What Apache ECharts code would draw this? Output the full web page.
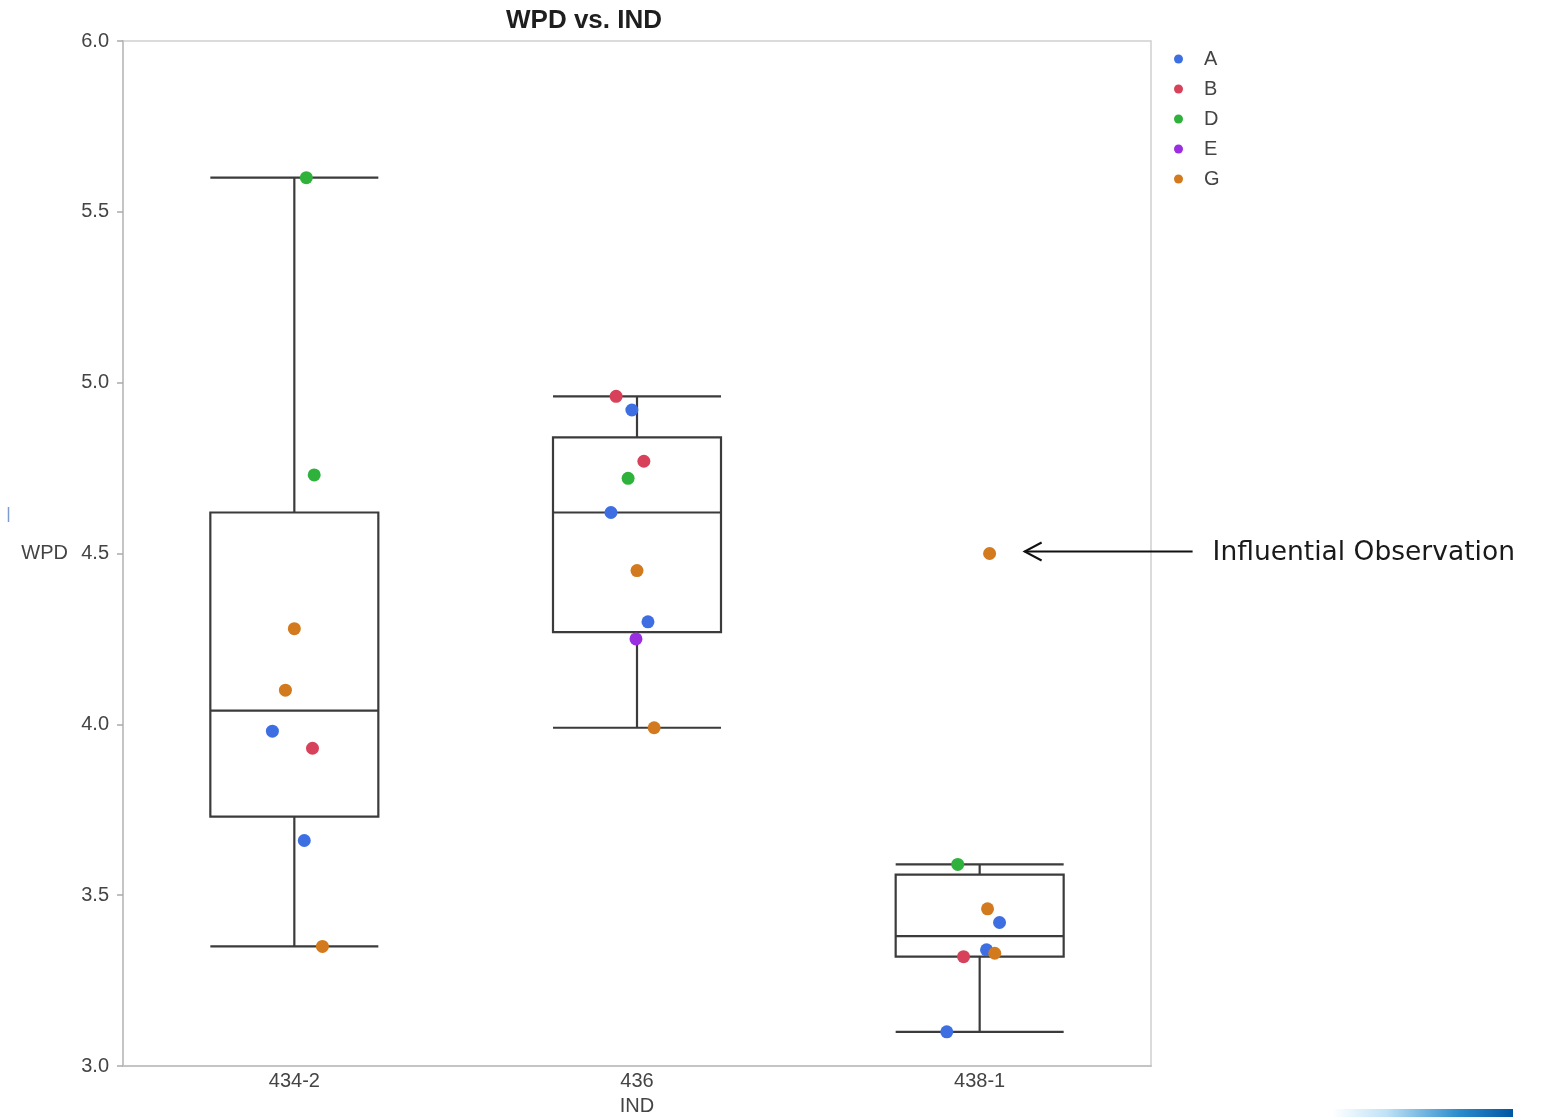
<!DOCTYPE html>
<html>
<head>
<meta charset="utf-8">
<script src="https://cdn.jsdelivr.net/npm/echarts@6/dist/echarts.min.js"></script>
<style>
html,body{margin:0;padding:0;background:#fff;}
#chart{width:1541px;height:1117px;}
</style>
</head>
<body>
<div id="chart"></div>
<script>
// ---- data ----
const categories = ['434-2', '436', '438-1'];
// [lower whisker, Q1, median, Q3, upper whisker]
const boxStats = [
  [3.35, 3.73, 4.04, 4.62, 5.60],
  [3.99, 4.27, 4.62, 4.84, 4.96],
  [3.10, 3.32, 3.38, 3.56, 3.59]
];
const groups = ['A', 'B', 'D', 'E', 'G'];
const groupColors = ['#3d6fe3', '#d8415a', '#2fb23c', '#9a2fe2', '#d27a1d'];
// points: [category index, WPD, horizontal jitter (category units)]
const pointsA = [[0, 3.98, -0.064], [0, 3.66, 0.029], [1, 4.92, -0.015], [1, 4.62, -0.076], [1, 4.30, 0.032], [2, 3.42, 0.058], [2, 3.34, 0.020], [2, 3.10, -0.096]];
const pointsB = [[0, 3.93, 0.053], [1, 4.96, -0.061], [1, 4.77, 0.020], [2, 3.32, -0.047]];
const pointsD = [[0, 5.60, 0.035], [0, 4.73, 0.058], [1, 4.72, -0.026], [2, 3.59, -0.064]];
const pointsE = [[1, 4.25, -0.003]];
const pointsG = [[0, 4.28, 0.0], [0, 4.10, -0.026], [0, 3.35, 0.082], [1, 4.45, 0.0], [1, 3.99, 0.050], [2, 3.46, 0.023], [2, 3.33, 0.044], [2, 4.50, 0.029]];
const groupPoints = [pointsA, pointsB, pointsD, pointsE, pointsG];
const yTicks = [3.0, 3.5, 4.0, 4.5, 5.0, 5.5, 6.0];
const influential = { group: 'G', category: 2, value: 4.50, jitter: 0.029 };
const annotationText = 'Influential Observation';

// ---- chart ----
const chart = echarts.init(document.getElementById('chart'));
const labelFont = '"Liberation Sans", Arial, sans-serif';

const scatterSeries = groups.map((g, i) => ({
  name: g,
  type: 'scatter',
  xAxisIndex: 1,
  yAxisIndex: 0,
  symbol: 'circle',
  symbolSize: 13,
  z: 5,
  itemStyle: { color: groupColors[i], opacity: 1 },
  data: groupPoints[i].map(p => [p[0] + p[2], p[1]])
}));

const option = {
  animation: false,
  backgroundColor: '#ffffff',
  title: {
    text: 'WPD vs. IND',
    left: 501, top: 3,
    textStyle: { fontFamily: labelFont, fontSize: 26, fontWeight: 'bold', color: '#1e1e1e' }
  },
  legend: {
    orient: 'vertical',
    left: 1169, top: 44,
    icon: 'circle',
    itemWidth: 9, itemHeight: 9,
    itemGap: 10,
    data: groups,
    textStyle: { fontFamily: labelFont, fontSize: 20, color: '#444', padding: [0, 0, 0, 16] }
  },
  grid: {
    left: 123, right: 390, top: 41, bottom: 51,
    outerBoundsMode: 'none',
    containLabel: false,
    show: true, borderColor: '#cfcfcf', borderWidth: 1.5, backgroundColor: 'transparent'
  },
  xAxis: [
    {
      type: 'category',
      data: categories,
      boundaryGap: true,
      name: 'IND',
      nameLocation: 'middle',
      nameGap: 30,
      nameTextStyle: { fontFamily: labelFont, fontSize: 20, color: '#444' },
      axisLine: { onZero: false, lineStyle: { color: '#c4c4c4', width: 2 } },
      axisTick: { show: false },
      axisLabel: { fontFamily: labelFont, fontSize: 20, color: '#444', margin: 5 },
      splitLine: { show: false }
    },
    {
      type: 'value',
      min: -0.5, max: 2.5,
      show: false
    }
  ],
  yAxis: [{
    type: 'value',
    min: 3.0, max: 6.0, interval: 0.5,
    name: 'WPD',
    nameLocation: 'middle',
    nameRotate: 0,
    nameGap: 55,
    nameTextStyle: { fontFamily: labelFont, fontSize: 20, color: '#444' },
    axisLine: { show: true, onZero: false, lineStyle: { color: '#c4c4c4', width: 2 } },
    axisTick: { show: true, length: 6, lineStyle: { color: '#aaaaaa', width: 1.5 } },
    axisLabel: {
      fontFamily: labelFont, fontSize: 20, color: '#444', margin: 14,
      formatter: v => yTicks.includes(v) ? v.toFixed(1) : ''
    },
    splitLine: { show: false }
  }],
  series: [
    {
      name: 'box',
      type: 'boxplot',
      xAxisIndex: 0,
      yAxisIndex: 0,
      boxWidth: [168, 168],
      z: 2,
      itemStyle: { color: 'rgba(255,255,255,0)', borderColor: '#3b3b3b', borderWidth: 2.2 },
      emphasis: { disabled: true },
      data: boxStats
    },
    ...scatterSeries
  ]
};
chart.setOption(option);

// annotation arrow anchored to the influential point
const pt = chart.convertToPixel({ xAxisIndex: 1, yAxisIndex: 0 }, [influential.category + influential.jitter, influential.value]);
const tipX = pt[0] + 35, tipY = pt[1] - 2;
const tailX = tipX + 168;
chart.setOption({
  graphic: [
    { type: 'line', shape: { x1: tipX, y1: tipY, x2: tailX, y2: tipY }, style: { stroke: '#111', lineWidth: 2 } },
    { type: 'polyline', shape: { points: [[tipX + 17, tipY - 9], [tipX, tipY], [tipX + 17, tipY + 9]] }, style: { stroke: '#111', lineWidth: 2, fill: null } },
    { type: 'text', x: tailX + 20, y: tipY + 2, style: { text: annotationText, font: '26.5px "DejaVu Sans", Verdana, sans-serif', fill: '#1a1a1a', verticalAlign: 'middle' } },
    { type: 'line', shape: { x1: 8.5, y1: 507, x2: 8.5, y2: 522 }, style: { stroke: '#7d9bd0', lineWidth: 1.5 } },
    {
      type: 'rect', shape: { x: 1332, y: 1109, width: 181, height: 8 },
      style: {
        fill: new echarts.graphic.LinearGradient(0, 0, 1, 0, [
          { offset: 0, color: '#ffffff' },
          { offset: 0.3, color: '#bfe2f6' },
          { offset: 0.7, color: '#2b8ccc' },
          { offset: 1, color: '#0057a3' }
        ])
      }
    }
  ]
});
</script>
</body>
</html>
